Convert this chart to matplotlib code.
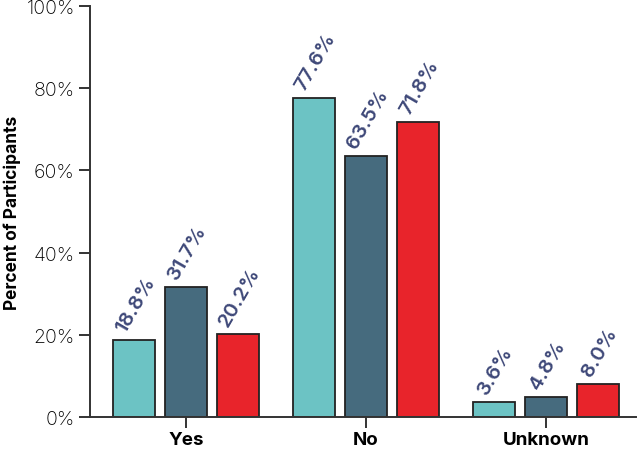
import matplotlib.pyplot as plt
import numpy as np

# Data
categories = ["Yes", "No", "Unknown"]
series_a = [18.8, 77.6, 3.6]
series_b = [31.7, 63.5, 4.8]
series_c = [20.2, 71.8, 8.0]

colors = ["#6cc3c4", "#466b7e", "#e8242b"]
label_color = "#3e4878"

plt.rcParams['font.family'] = ['Inter', 'DejaVu Sans']

fig = plt.figure(figsize=(6.4, 4.52), dpi=100)
ax = fig.add_axes([0.1406, 0.0752, 0.853, 0.9093])

x = np.arange(len(categories))
width = 0.233
offset = 0.289

for i, vals in enumerate([series_a, series_b, series_c]):
    pos = x + (i - 1) * offset
    ax.bar(pos, vals, width, color=colors[i], edgecolor="#222222", linewidth=1.3)
    for p, v in zip(pos, vals):
        ax.text(p + 0.01, v + 1.2, f"{v:.1f}%", rotation=60, ha="center", va="bottom",
                fontsize=14.5, color=label_color, fontweight="semibold")

ax.set_xlim(-0.533, 2.5)
ax.set_ylim(0, 100)
ax.set_yticks(range(0, 101, 20))
ax.set_yticklabels([f"{t}%" for t in range(0, 101, 20)], fontsize=14, fontweight="light")
ax.set_xticks(x)
ax.set_xticklabels(categories, fontsize=13.5, fontweight="bold")
ax.set_ylabel("Percent of Participants", fontsize=12.5, fontweight="bold", labelpad=4)

for s in ["top", "right"]:
    ax.spines[s].set_visible(False)
for s in ["left", "bottom"]:
    ax.spines[s].set_linewidth(1.4)
    ax.spines[s].set_color("#333333")
ax.tick_params(axis="both", length=8, width=1.4, color="#333333")
ax.tick_params(axis="y", pad=3)
ax.tick_params(axis="x", pad=2)

fig.savefig("out.png", dpi=100)
